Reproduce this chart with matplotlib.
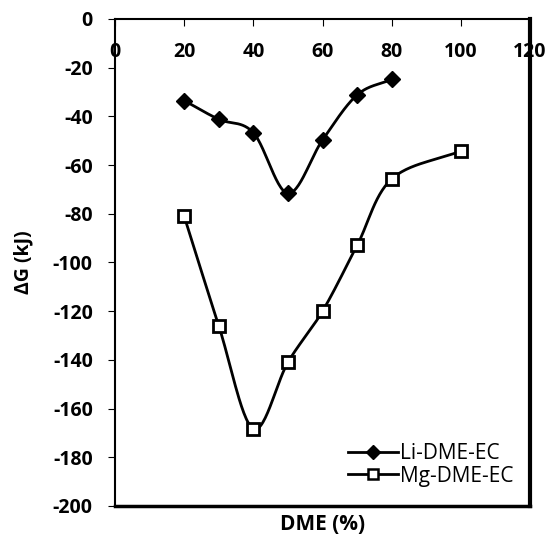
import numpy as np
import matplotlib
matplotlib.use("Agg")
import matplotlib.pyplot as plt

plt.rcParams['font.family'] = ['Open Sans', 'DejaVu Sans']
plt.rcParams['axes.unicode_minus'] = False

li_x = [20, 30, 40, 50, 60, 70, 80]
li_y = [-33.5, -41.2, -46.7, -71.6, -49.7, -31.2, -24.8]
mg_x = [20, 30, 40, 50, 60, 70, 80, 100]
mg_y = [-81, -126, -168.3, -141, -120, -93, -65.7, -54.2]


def smooth(xs, ys, n=30):
    # Catmull-Rom style smoothing, like the spreadsheet "smoothed line"
    xs = np.asarray(xs, float)
    ys = np.asarray(ys, float)
    px = np.concatenate([[2 * xs[0] - xs[1]], xs, [2 * xs[-1] - xs[-2]]])
    py = np.concatenate([[2 * ys[0] - ys[1]], ys, [2 * ys[-1] - ys[-2]]])
    ox, oy = [], []
    t = np.linspace(0, 1, n)
    for i in range(1, len(px) - 2):
        bx = [px[i], px[i] + (px[i + 1] - px[i - 1]) / 6,
              px[i + 1] - (px[i + 2] - px[i]) / 6, px[i + 1]]
        by = [py[i], py[i] + (py[i + 1] - py[i - 1]) / 6,
              py[i + 1] - (py[i + 2] - py[i]) / 6, py[i + 1]]
        ox.extend((1 - t) ** 3 * bx[0] + 3 * (1 - t) ** 2 * t * bx[1]
                  + 3 * (1 - t) * t ** 2 * bx[2] + t ** 3 * bx[3])
        oy.extend((1 - t) ** 3 * by[0] + 3 * (1 - t) ** 2 * t * by[1]
                  + 3 * (1 - t) * t ** 2 * by[2] + t ** 3 * by[3])
    return ox, oy


fig = plt.figure(figsize=(5.49, 5.38), dpi=100)
ax = fig.add_axes([0.2095, 0.0595, 0.7559, 0.9052])

sx, sy = smooth(li_x, li_y)
ax.plot(sx, sy, color='black', lw=2)
ax.plot(li_x, li_y, ls='none', marker='D', ms=8.5, color='black')
ax.plot([], [], color='black', lw=2, marker='D', ms=7, label='Li-DME-EC')

sx, sy = smooth(mg_x, mg_y)
ax.plot(sx, sy, color='black', lw=2)
ax.plot(mg_x, mg_y, ls='none', marker='s', ms=9, mfc='white', mec='black', mew=2)
ax.plot([], [], color='black', lw=2, marker='s', ms=6.5, mfc='white', mec='black',
        mew=1.8, label='Mg-DME-EC')

ax.set_xlim(0, 120)
ax.set_ylim(-200, 0)
ax.set_xticks(range(0, 121, 20))
ax.set_yticks(range(-200, 1, 20))

ax.xaxis.tick_top()
ax.tick_params(axis='x', direction='in', length=5, pad=-31, labelsize=14)
ax.tick_params(axis='y', direction='out', length=5, pad=11, labelsize=14)
for lab in ax.get_xticklabels() + ax.get_yticklabels():
    lab.set_fontweight('bold')

for s in ax.spines.values():
    s.set_linewidth(1.5)
ax.spines['right'].set_linewidth(3)
ax.spines['bottom'].set_linewidth(2.5)

ax.set_xlabel('DME (%)', fontsize=15, fontweight='bold', labelpad=6)
ax.xaxis.set_label_position('bottom')
ax.set_ylabel('ΔG (kJ)', fontsize=14, fontweight='bold', labelpad=14)

ax.legend(loc='lower right', frameon=False, fontsize=15, handlelength=2.4,
          handletextpad=0.1, labelspacing=0.05, borderpad=0, borderaxespad=0,
          bbox_to_anchor=(0.96, 0.04))

fig.savefig('out.png', dpi=100)
